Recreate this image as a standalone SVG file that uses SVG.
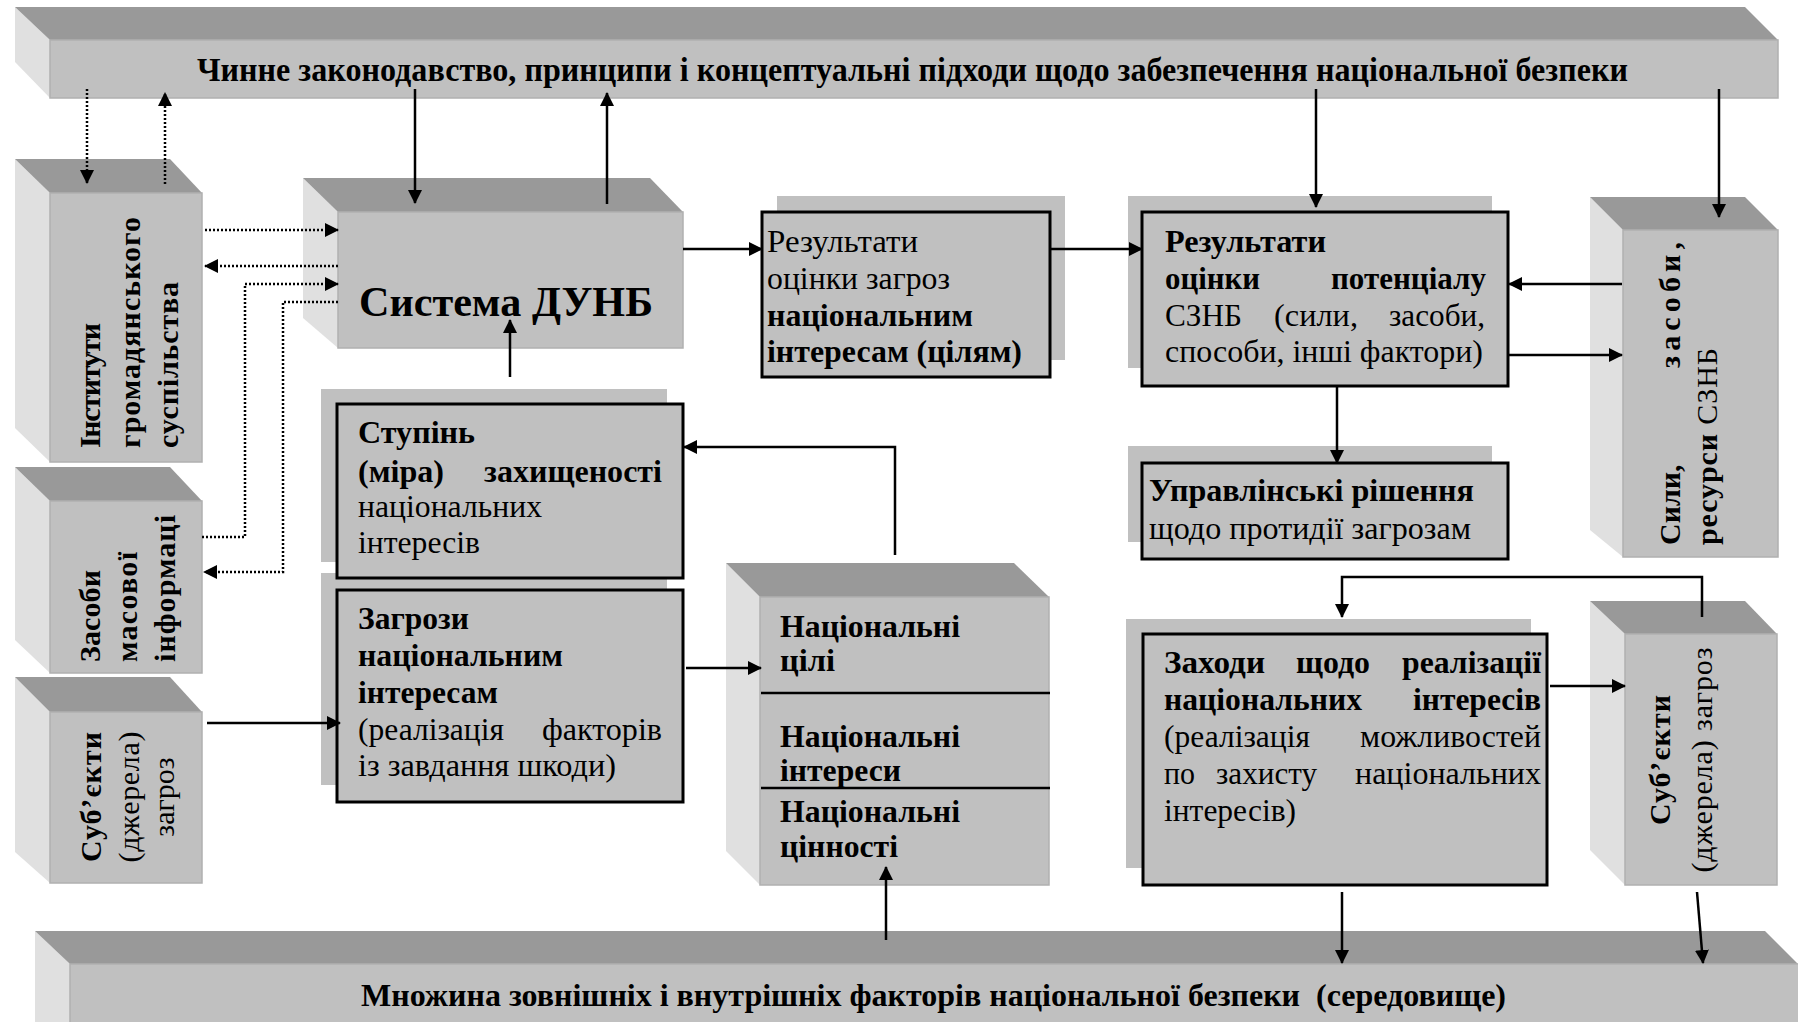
<svg xmlns="http://www.w3.org/2000/svg" width="1798" height="1022" viewBox="0 0 1798 1022">
<defs>
<style>
.top{fill:#999999}
.front{fill:#c0c0c0;stroke:#b0b0b0;stroke-width:1.5}
.side{fill:#e0e0e0}
.shadow{fill:#c0c0c0}
.box{fill:#c0c0c0;stroke:#000;stroke-width:3}
.t{font-family:"Liberation Serif","Times New Roman",serif;font-size:32px;fill:#000}
.r{font-size:30px}
.b{font-weight:bold}
.n{font-weight:normal}
.ln{fill:none;stroke:#000;stroke-width:2.5}
.dt{fill:none;stroke:#000;stroke-width:2.5;stroke-dasharray:2 2}
.dv{stroke:#000;stroke-width:2.5}
</style>
<marker id="ah" viewBox="0 0 14 14" refX="13" refY="7" markerWidth="14" markerHeight="14" markerUnits="userSpaceOnUse" orient="auto">
<path d="M0,0 L14,7 L0,14 z" fill="#000"/>
</marker>
</defs>
<rect width="1798" height="1022" fill="#fff"/>

<g id="top-bar">
<polygon class="side" points="15,7 50,40 50,98 15,62"/>
<polygon class="top" points="15,7 1745,7 1778,40 50,40"/>
<rect class="front" x="50" y="40" width="1728" height="58"/>
<text class="t b" x="197" y="81" style="font-size:34px" textLength="1431" lengthAdjust="spacingAndGlyphs">Чинне законодавство, принципи і концептуальні підходи щодо забезпечення національної безпеки</text>
</g>

<g id="bottom-bar">
<polygon class="side" points="35,931 70,964 70,1022 35,1022"/>
<polygon class="top" points="35,931 1765,931 1798,964 70,964"/>
<rect class="front" x="70" y="964" width="1740" height="70"/>
<text class="t b" x="361" y="1006" textLength="1145" lengthAdjust="spacingAndGlyphs" style="white-space:pre" xml:space="preserve">Множина зовнішніх і внутрішніх факторів національної безпеки  (середовище)</text>
</g>

<g id="instytuty">
<polygon class="side" points="15,159 50,193 50,462 15,428"/>
<polygon class="top" points="15,159 170,159 202,193 50,193"/>
<rect class="front" x="50" y="193" width="152" height="269"/>
<text class="t r b" transform="rotate(-90 100 448)" x="100" y="448" textLength="125" lengthAdjust="spacing">Інститути</text>
<text class="t r b" transform="rotate(-90 140 448)" x="140" y="448" textLength="231" lengthAdjust="spacing">громадянського</text>
<text class="t r b" transform="rotate(-90 178 448)" x="178" y="448" textLength="166" lengthAdjust="spacing">суспільства</text>
</g>

<g id="zmi">
<polygon class="side" points="15,467 50,501 50,673 15,640"/>
<polygon class="top" points="15,467 170,467 202,501 50,501"/>
<rect class="front" x="50" y="501" width="152" height="172"/>
<text class="t r b" transform="rotate(-90 100 662)" x="100" y="662" textLength="92" lengthAdjust="spacing">Засоби</text>
<text class="t r b" transform="rotate(-90 137 662)" x="137" y="662" textLength="110" lengthAdjust="spacing">масової</text>
<text class="t r b" transform="rotate(-90 175 662)" x="175" y="662" textLength="147" lengthAdjust="spacing">інформаці</text>
</g>

<g id="subjekty-left">
<polygon class="side" points="15,677 50,712 50,883 15,852"/>
<polygon class="top" points="15,677 170,677 202,712 50,712"/>
<rect class="front" x="50" y="712" width="152" height="171"/>
<text class="t r b" text-anchor="middle" transform="rotate(-90 101 797)" x="101" y="797" textLength="130" lengthAdjust="spacing">Суб’єкти</text>
<text class="t r" text-anchor="middle" transform="rotate(-90 139 797)" x="139" y="797" textLength="131" lengthAdjust="spacing">(джерела)</text>
<text class="t r" text-anchor="middle" transform="rotate(-90 174 797)" x="174" y="797">загроз</text>
</g>

<g id="systema">
<polygon class="side" points="303,178 338,212 338,348 303,318"/>
<polygon class="top" points="303,178 650,178 683,212 338,212"/>
<rect class="front" x="338" y="212" width="345" height="136"/>
<text class="t b" x="359" y="316" style="font-size:42px" textLength="294" lengthAdjust="spacingAndGlyphs">Система ДУНБ</text>
</g>

<g id="rez-zagroz">
<rect class="shadow" x="777" y="196" width="288" height="164"/>
<rect class="box" x="762" y="212" width="288" height="165"/>
<text class="t" x="767" y="252" textLength="151" lengthAdjust="spacingAndGlyphs">Результати</text>
<text class="t" x="767" y="289" textLength="183" lengthAdjust="spacingAndGlyphs">оцінки загроз</text>
<text class="t b" x="767" y="326" textLength="206" lengthAdjust="spacingAndGlyphs">національним</text>
<text class="t b" x="767" y="362" textLength="255" lengthAdjust="spacingAndGlyphs">інтересам (цілям)</text>
</g>

<g id="rez-potencialu">
<rect class="shadow" x="1128" y="196" width="364" height="172"/>
<rect class="box" x="1142" y="212" width="366" height="174"/>
<text class="t b" x="1165" y="252" textLength="161" lengthAdjust="spacingAndGlyphs">Результати</text>
<text class="t b" x="1165" y="289" textLength="95" lengthAdjust="spacingAndGlyphs">оцінки</text>
<text class="t b" x="1331" y="289" textLength="155" lengthAdjust="spacingAndGlyphs">потенціалу</text>
<text class="t" x="1165" y="326" textLength="77" lengthAdjust="spacingAndGlyphs">СЗНБ</text>
<text class="t" x="1274" y="326" textLength="84" lengthAdjust="spacingAndGlyphs">(сили,</text>
<text class="t" x="1389" y="326" textLength="96" lengthAdjust="spacingAndGlyphs">засоби,</text>
<text class="t" x="1165" y="362" textLength="318" lengthAdjust="spacingAndGlyphs">способи, інші фактори)</text>
</g>

<g id="upravlinski">
<rect class="shadow" x="1128" y="446" width="364" height="96"/>
<rect class="box" x="1142" y="463" width="366" height="96"/>
<text class="t b" x="1149" y="501" textLength="325" lengthAdjust="spacingAndGlyphs">Управлінські рішення</text>
<text class="t" x="1149" y="539" textLength="322" lengthAdjust="spacingAndGlyphs">щодо протидії загрозам</text>
</g>

<g id="syly">
<polygon class="side" points="1590,197 1623,230 1623,557 1590,530"/>
<polygon class="top" points="1590,197 1745,197 1778,230 1623,230"/>
<rect class="front" x="1623" y="230" width="155" height="327"/>
<text class="t r b" transform="rotate(-90 1680 545)" x="1680" y="545">Сили,</text>
<text class="t r b" text-anchor="end" transform="rotate(-90 1680 242)" x="1680" y="242" textLength="126" lengthAdjust="spacing">засоби,</text>
<text class="t r b" transform="rotate(-90 1717 545)" x="1717" y="545" textLength="197" lengthAdjust="spacing">ресурси <tspan class="n">СЗНБ</tspan></text>
</g>

<g id="stupin">
<rect class="shadow" x="321" y="389" width="346" height="173"/>
<rect class="shadow" x="321" y="573" width="346" height="212"/>
<rect class="box" x="337" y="404" width="346" height="174"/>
<text class="t b" x="358" y="443" textLength="117" lengthAdjust="spacingAndGlyphs">Ступінь</text>
<text class="t b" x="358" y="482" textLength="86" lengthAdjust="spacingAndGlyphs">(міра)</text>
<text class="t b" x="484" y="482" textLength="178" lengthAdjust="spacingAndGlyphs">захищеності</text>
<text class="t" x="358" y="517" textLength="184" lengthAdjust="spacingAndGlyphs">національних</text>
<text class="t" x="358" y="553" textLength="122" lengthAdjust="spacingAndGlyphs">інтересів</text>
</g>

<g id="zagrozy">
<rect class="box" x="337" y="590" width="346" height="212"/>
<text class="t b" x="358" y="629" textLength="111" lengthAdjust="spacingAndGlyphs">Загрози</text>
<text class="t b" x="358" y="666" textLength="205" lengthAdjust="spacingAndGlyphs">національним</text>
<text class="t b" x="358" y="703" textLength="140" lengthAdjust="spacingAndGlyphs">інтересам</text>
<text class="t" x="358" y="740" textLength="146" lengthAdjust="spacingAndGlyphs">(реалізація</text>
<text class="t" x="542" y="740" textLength="120" lengthAdjust="spacingAndGlyphs">факторів</text>
<text class="t" x="358" y="776" textLength="258" lengthAdjust="spacingAndGlyphs">із завдання шкоди)</text>
</g>

<g id="nacionalni">
<polygon class="side" points="726,563 760,597 760,885 726,851"/>
<polygon class="top" points="726,563 1014,563 1049,597 760,597"/>
<rect class="front" x="760" y="597" width="289" height="288"/>
<line class="dv" x1="761" y1="693" x2="1050" y2="693"/>
<line class="dv" x1="761" y1="788" x2="1050" y2="788"/>
<text class="t b" x="780" y="637" textLength="180" lengthAdjust="spacingAndGlyphs">Національні</text>
<text class="t b" x="780" y="671" textLength="55" lengthAdjust="spacingAndGlyphs">цілі</text>
<text class="t b" x="780" y="747" textLength="180" lengthAdjust="spacingAndGlyphs">Національні</text>
<text class="t b" x="780" y="781" textLength="121" lengthAdjust="spacingAndGlyphs">інтереси</text>
<text class="t b" x="780" y="822" textLength="180" lengthAdjust="spacingAndGlyphs">Національні</text>
<text class="t b" x="780" y="857" textLength="118" lengthAdjust="spacingAndGlyphs">цінності</text>
</g>

<g id="zakhody">
<rect class="shadow" x="1126" y="619" width="405" height="249"/>
<rect class="box" x="1143" y="634" width="404" height="251"/>
<text class="t b" x="1164" y="673" textLength="101" lengthAdjust="spacingAndGlyphs">Заходи</text>
<text class="t b" x="1296" y="673" textLength="74" lengthAdjust="spacingAndGlyphs">щодо</text>
<text class="t b" x="1402" y="673" textLength="139" lengthAdjust="spacingAndGlyphs">реалізації</text>
<text class="t b" x="1164" y="710" textLength="198" lengthAdjust="spacingAndGlyphs">національних</text>
<text class="t b" x="1413" y="710" textLength="128" lengthAdjust="spacingAndGlyphs">інтересів</text>
<text class="t" x="1164" y="747" textLength="146" lengthAdjust="spacingAndGlyphs">(реалізація</text>
<text class="t" x="1360" y="747" textLength="181" lengthAdjust="spacingAndGlyphs">можливостей</text>
<text class="t" x="1164" y="784" textLength="31" lengthAdjust="spacingAndGlyphs">по</text>
<text class="t" x="1216" y="784" textLength="101" lengthAdjust="spacingAndGlyphs">захисту</text>
<text class="t" x="1355" y="784" textLength="186" lengthAdjust="spacingAndGlyphs">національних</text>
<text class="t" x="1164" y="821" textLength="132" lengthAdjust="spacingAndGlyphs">інтересів)</text>
</g>

<g id="subjekty-right">
<polygon class="side" points="1590,601 1625,634 1625,885 1590,850"/>
<polygon class="top" points="1590,601 1745,601 1777,634 1625,634"/>
<rect class="front" x="1625" y="634" width="152" height="251"/>
<text class="t r b" text-anchor="middle" transform="rotate(-90 1670 760)" x="1670" y="760" textLength="130" lengthAdjust="spacing">Суб’єкти</text>
<text class="t r" text-anchor="middle" transform="rotate(-90 1712 760)" x="1712" y="760" textLength="225" lengthAdjust="spacing">(джерела) загроз</text>
</g>

<g id="connectors">
<path class="ln" marker-end="url(#ah)" d="M415,89 V203"/>
<path class="ln" marker-end="url(#ah)" d="M607,204 V93"/>
<path class="ln" marker-end="url(#ah)" d="M1316,89 V207"/>
<path class="ln" marker-end="url(#ah)" d="M1719,89 V217"/>
<path class="dt" marker-end="url(#ah)" d="M87,89 V183"/>
<path class="dt" marker-end="url(#ah)" d="M165,184 V93"/>
<path class="dt" marker-end="url(#ah)" d="M205,230 H338"/>
<path class="dt" marker-end="url(#ah)" d="M338,266 H205"/>
<path class="dt" marker-end="url(#ah)" d="M202,537 H245 V284 H338"/>
<path class="dt" marker-end="url(#ah)" d="M338,302 H283 V572 H204"/>
<path class="ln" marker-end="url(#ah)" d="M683,249 H762"/>
<path class="ln" marker-end="url(#ah)" d="M1050,249 H1142"/>
<path class="ln" marker-end="url(#ah)" d="M1622,284 H1509"/>
<path class="ln" marker-end="url(#ah)" d="M1509,355 H1622"/>
<path class="ln" marker-end="url(#ah)" d="M1337,386 V463"/>
<path class="ln" marker-end="url(#ah)" d="M510,377 V320"/>
<path class="ln" marker-end="url(#ah)" d="M895,555 V447 H684"/>
<path class="ln" marker-end="url(#ah)" d="M686,668 H761"/>
<path class="ln" marker-end="url(#ah)" d="M207,723 H340"/>
<path class="ln" marker-end="url(#ah)" d="M886,940 V867"/>
<path class="ln" marker-end="url(#ah)" d="M1702,617 V577 H1342 V617"/>
<path class="ln" marker-end="url(#ah)" d="M1550,686 H1625"/>
<path class="ln" marker-end="url(#ah)" d="M1342,892 V963"/>
<path class="ln" marker-end="url(#ah)" d="M1697,892 L1703,963"/>
</g>
</svg>
